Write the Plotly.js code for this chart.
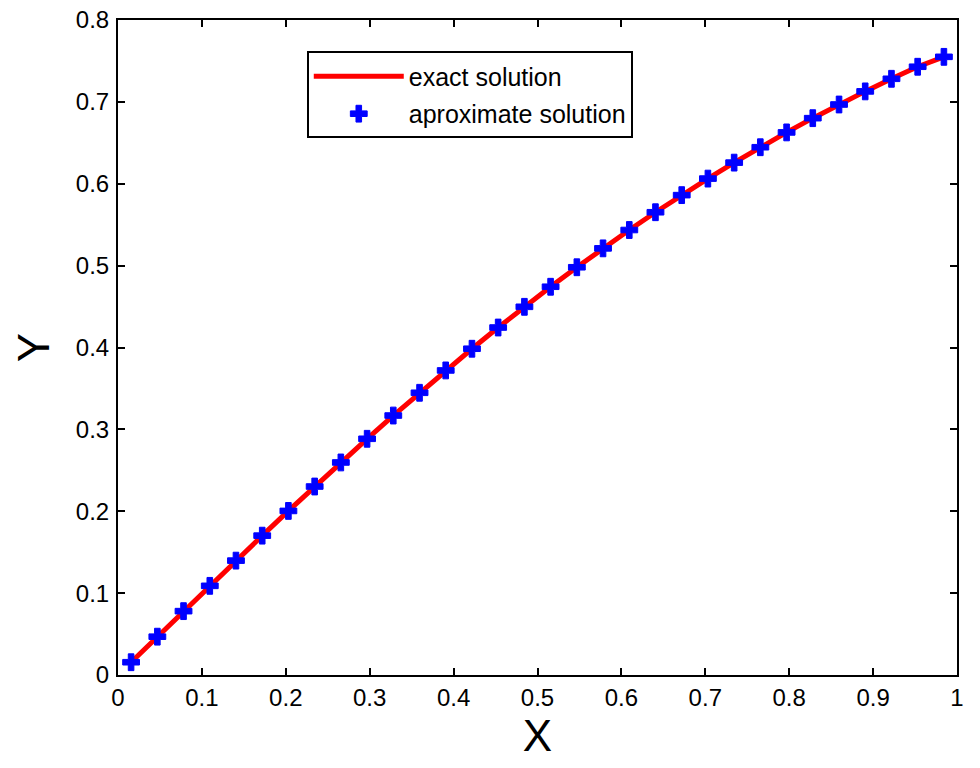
<!DOCTYPE html>
<html><head><meta charset="utf-8">
<script src="https://cdn.plot.ly/plotly-3.0.1.min.js"></script>
<style>body{margin:0;background:#fff}#c{width:980px;height:768px}</style>
</head><body><div id="c"></div>
<script>
const xVals = [0.0156,0.0469,0.0781,0.1094,0.1406,0.1719,0.2031,0.2344,0.2656,0.2969,0.3281,0.3594,0.3906,0.4219,0.4531,0.4844,0.5156,0.5469,0.5781,0.6094,0.6406,0.6719,0.7031,0.7344,0.7656,0.7969,0.8281,0.8594,0.8906,0.9219,0.9531,0.9844];
const exactY = [0.0156,0.0468,0.0780,0.1089,0.1397,0.1702,0.2004,0.2302,0.2596,0.2885,0.3169,0.3447,0.3720,0.3985,0.4244,0.4497,0.4742,0.4980,0.5211,0.5435,0.5652,0.5861,0.6063,0.6258,0.6446,0.6627,0.6801,0.6968,0.7128,0.7282,0.7429,0.7550];
const approxY = [0.0156,0.0468,0.0780,0.1089,0.1397,0.1702,0.2004,0.2302,0.2596,0.2885,0.3169,0.3447,0.3720,0.3985,0.4244,0.4497,0.4742,0.4980,0.5211,0.5435,0.5652,0.5861,0.6063,0.6258,0.6446,0.6627,0.6801,0.6968,0.7128,0.7282,0.7429,0.7550];
const xTicks = [0,0.1,0.2,0.3,0.4,0.5,0.6,0.7,0.8,0.9,1];
const xTickText = ['0','0.1','0.2','0.3','0.4','0.5','0.6','0.7','0.8','0.9','1'];
const yTicks = [0,0.1,0.2,0.3,0.4,0.5,0.6,0.7,0.8];
const yTickText = ['0','0.1','0.2','0.3','0.4','0.5','0.6','0.7','0.8'];

const font = 'Liberation Sans, Arial, sans-serif';
const traces = [
  {x:xVals, y:exactY, mode:'lines', name:'exact solution', legendgroup:'a', line:{color:'#ff0000', width:5}},
  {x:xVals, y:approxY, mode:'markers', name:'aproximate solution', legendgroup:'b', marker:{color:'#0000ff', symbol:'cross', size:14, line:{color:'#0000ff', width:1}}}
];
const axisCommon = {showline:true, linecolor:'#000', linewidth:2, mirror:'ticks', ticks:'inside', ticklen:7, tickwidth:2, tickcolor:'#000', showgrid:false, zeroline:false, tickfont:{family:font, size:24, color:'#000'}};
const layout = {
  width:980, height:768,
  margin:{l:118, r:23, t:20, b:93},
  paper_bgcolor:'#fff', plot_bgcolor:'#fff',
  font:{family:font, color:'#000'},
  showlegend:true,
  xaxis:Object.assign({}, axisCommon, {range:[0,1], tickvals:xTicks, ticktext:xTickText, ticklabelstandoff:0, title:{text:'X', font:{family:font, size:44}, standoff:2}}),
  yaxis:Object.assign({}, axisCommon, {range:[0,0.8], tickvals:yTicks, ticktext:yTickText, ticklabelstandoff:2, title:{text:'Y', font:{family:font, size:44}, standoff:12}}),
  legend:{x:0.225, y:0.952, xanchor:'left', yanchor:'top', bgcolor:'#fff', bordercolor:'#000', borderwidth:2, traceorder:'grouped', tracegroupgap:2, font:{family:font, size:25, color:'#000'}, itemwidth:90}
};
Plotly.newPlot('c', traces, layout, {displayModeBar:false});
</script></body></html>
